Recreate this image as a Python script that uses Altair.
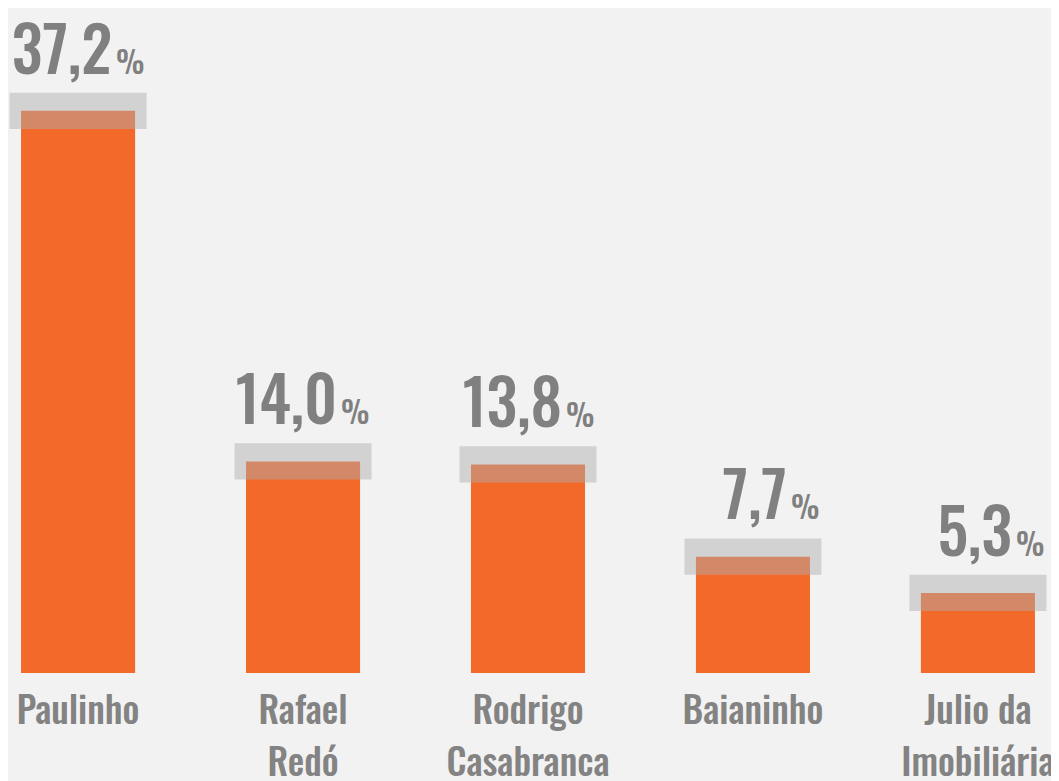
import altair as alt
import pandas as pd

names = ["Paulinho", "Rafael|Redó", "Rodrigo|Casabranca", "Baianinho", "Julio da|Imobiliária"]
values = [37.2, 14.0, 13.8, 7.7, 5.3]
labels = ["37,2", "14,0", "13,8", "7,7", "5,3"]
margin = [1.2, 1.2, 1.2, 1.2, 1.2]

df = pd.DataFrame({"name": names, "value": values, "label": labels, "m": margin})
df["lo"] = df["value"] - df["m"]
df["hi"] = df["value"] + df["m"]

FONT = "Oswald, Roboto Condensed, sans-serif"
GREY = "#808080"

x = alt.X("name:N", sort=names, title=None,
          scale=alt.Scale(paddingInner=0.493, paddingOuter=0.058),
          axis=alt.Axis(labelExpr="split(datum.value, '|')", labelAngle=0,
                        labelFont=FONT, labelFontSize=37, labelFontWeight=500,
                        labelColor="#838383", labelPadding=21, labelLineHeight=52,
                        ticks=False, domain=False, grid=False, labelOverlap=False,
                        labelBound=False, labelFlush=False, labelLimit=400))
yscale = alt.Scale(domain=[0, 44], nice=False, zero=True)

base = alt.Chart(df)

bars = base.mark_bar(color="#f3692a").encode(
    x=x,
    y=alt.Y("value:Q", scale=yscale, axis=None, title=None),
)

band = base.mark_bar(color="#aeaeae", opacity=0.47, width=137).encode(
    x=x,
    y=alt.Y("lo:Q", scale=yscale),
    y2="hi:Q",
)

num = base.mark_text(font=FONT, fontSize=62, fontWeight=500, color=GREY,
                     align="right", baseline="alphabetic", dx=34, dy=-19).encode(
    x=x, y=alt.Y("hi:Q", scale=yscale), text="label:N"
)

pct = base.mark_text(font=FONT, fontSize=30, fontWeight=500, color=GREY,
                     align="left", baseline="alphabetic", dx=38, dy=-19).encode(
    x=x, y=alt.Y("hi:Q", scale=yscale), text=alt.value("%")
)

chart = alt.layer(bars, band, num, pct).properties(
    width=1040, height=665,
    background="#f2f2f2",
    autosize=alt.AutoSizeParams(type="none"),
    padding={"left": 0, "top": 0, "right": 3, "bottom": 108},
).configure_view(stroke=None)

chart.save("out.html", embed_options={"renderer": "svg", "actions": False})
